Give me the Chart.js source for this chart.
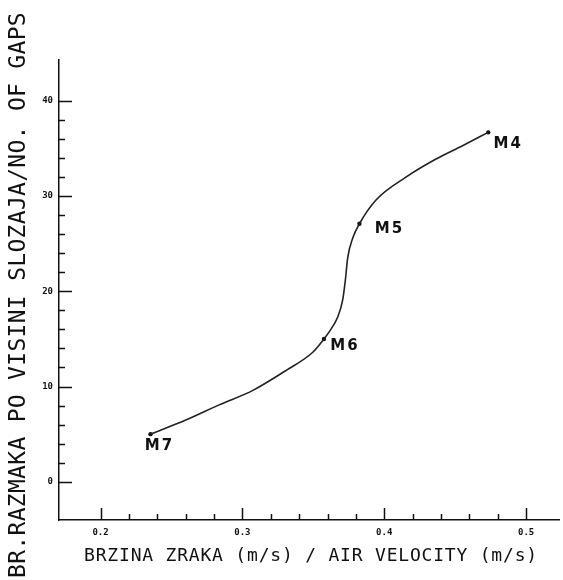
<!DOCTYPE html>
<html>
<head>
<meta charset="utf-8">
<script src="https://cdn.jsdelivr.net/npm/chart.js@4.4.1/dist/chart.umd.min.js"></script>
<style>
  html, body { margin: 0; padding: 0; background: #fff; }
  #wrap { width: 563px; height: 580px; position: relative; }
</style>
</head>
<body>
<div id="wrap"><canvas id="gapsChart"></canvas></div>
<script>
// curve: air velocity (m/s) -> no. of gaps
const velocity = [0.2352, 0.2605, 0.2840, 0.3074, 0.3309, 0.3496, 0.3575, 0.3614, 0.3672, 0.3707,
                  0.3726, 0.3742, 0.3778, 0.3825, 0.3942, 0.4153, 0.4365, 0.4552, 0.4733];
const gaps = [5.0, 6.5, 8.1, 9.6, 11.7, 13.6, 15.0, 15.8, 17.3, 19.1,
              21.2, 23.5, 25.6, 27.1, 29.6, 32.0, 33.9, 35.3, 36.7];

// measured points
const pointNames = ["M7", "M6", "M5", "M4"];
const pointVelocity = [0.2352, 0.3575, 0.3825, 0.4733];
const pointGaps = [5.0, 15.0, 27.1, 36.7];

// axes
const xTicks = [0.2, 0.3, 0.4, 0.5];
const yTicks = [0, 10, 20, 30, 40];
const xMinorStep = 0.02;
const yMinorStep = 2;
const xTitle = "BRZINA ZRAKA (m/s) / AIR VELOCITY (m/s)";
const yTitle = "BR.RAZMAKA PO VISINI SLOZAJA/NO. OF GAPS";

// where each M label sits relative to its dot (px)
const labelOffsets = [[9, 12], [21, 7], [30, 5], [20, 12]];

const INK = "#111";

// inward ticks, axis titles and point names, like the old plotter output
const plotterBits = {
  id: "plotterBits",
  afterDraw(chart) {
    const ctx = chart.ctx;
    const xs = chart.scales.x;
    const ys = chart.scales.y;
    const area = chart.chartArea;
    ctx.save();
    ctx.strokeStyle = INK;
    ctx.lineWidth = 1.5;
    ctx.beginPath();
    const nx = Math.round((xTicks[xTicks.length - 1] - xTicks[0]) / xMinorStep);
    for (let i = 0; i <= nx; i++) {
      const px = Math.round(xs.getPixelForValue(xTicks[0] + i * xMinorStep)) + 0.5;
      const len = i % 5 === 0 ? 12 : 6;
      ctx.moveTo(px, area.bottom);
      ctx.lineTo(px, area.bottom - len);
    }
    const ny = Math.round((yTicks[yTicks.length - 1] - yTicks[0]) / yMinorStep);
    for (let i = 0; i <= ny; i++) {
      const py = Math.round(ys.getPixelForValue(yTicks[0] + i * yMinorStep)) + 0.5;
      const len = i % 5 === 0 ? 13 : 6;
      ctx.moveTo(area.left, py);
      ctx.lineTo(area.left + len, py);
    }
    ctx.stroke();

    ctx.fillStyle = INK;
    ctx.textAlign = "center";
    ctx.textBaseline = "middle";

    // point names
    ctx.font = 'bold 15px "DejaVu Sans"';
    ctx.letterSpacing = "2px";
    pointNames.forEach((name, i) => {
      const px = xs.getPixelForValue(pointVelocity[i]);
      const py = ys.getPixelForValue(pointGaps[i]);
      ctx.fillText(name, px + labelOffsets[i][0], py + labelOffsets[i][1]);
    });

    // axis titles
    ctx.font = '18px "DejaVu Sans Mono"';
    ctx.letterSpacing = "0.8px";
    ctx.fillText(xTitle, 311, 556);

    ctx.font = '23px "DejaVu Sans Mono"';
    ctx.letterSpacing = "0.3px";
    ctx.translate(19, 295);
    ctx.rotate(-Math.PI / 2);
    ctx.fillText(yTitle, 0, 0);
    ctx.restore();
  }
};

// only the printed tick values, nothing at the odd axis ends
const setTicks = list => scale => {
  scale.ticks = list.map(v => ({ value: v }));
};

const ctx = document.getElementById("gapsChart").getContext("2d");
const chart = new Chart(ctx, {
  type: "scatter",
  data: {
    datasets: [
      {
        label: "curve",
        data: velocity.map((v, i) => ({ x: v, y: gaps[i] })),
        showLine: true,
        borderColor: "#222",
        borderWidth: 1.6,
        pointRadius: 0,
        cubicInterpolationMode: "monotone",
      },
      {
        label: "points",
        data: pointVelocity.map((v, i) => ({ x: v, y: pointGaps[i] })),
        showLine: false,
        pointRadius: 2.2,
        backgroundColor: INK,
        borderColor: INK,
        borderWidth: 0,
      },
    ],
  },
  options: {
    responsive: true,
    maintainAspectRatio: false,
    animation: false,
    layout: { padding: { top: 60, right: 3, left: 0, bottom: 0 } },
    plugins: {
      legend: { display: false },
      tooltip: { enabled: false },
    },
    scales: {
      x: {
        type: "linear",
        min: 0.1707,
        max: 0.5232,
        afterBuildTicks: setTicks(xTicks),
        afterFit: s => { s.height = 60; },
        grid: { display: false, drawTicks: false },
        border: { display: true, color: INK, width: 1.5 },
        ticks: {
          autoSkip: false,
          maxRotation: 0,
          padding: 7,
          color: INK,
          font: { family: "DejaVu Sans Mono", size: 9, weight: "bold" },
          callback: v => v.toFixed(1),
        },
      },
      y: {
        type: "linear",
        min: -4.02,
        max: 44.3,
        afterBuildTicks: setTicks(yTicks),
        afterFit: s => { s.width = 59; },
        grid: { display: false, drawTicks: false },
        border: { display: true, color: INK, width: 1.5 },
        ticks: {
          autoSkip: false,
          padding: 6,
          color: INK,
          font: { family: "DejaVu Sans Mono", size: 9, weight: "bold" },
          callback: v => String(v),
        },
      },
    },
  },
  plugins: [plotterBits],
});
</script>
</body>
</html>
